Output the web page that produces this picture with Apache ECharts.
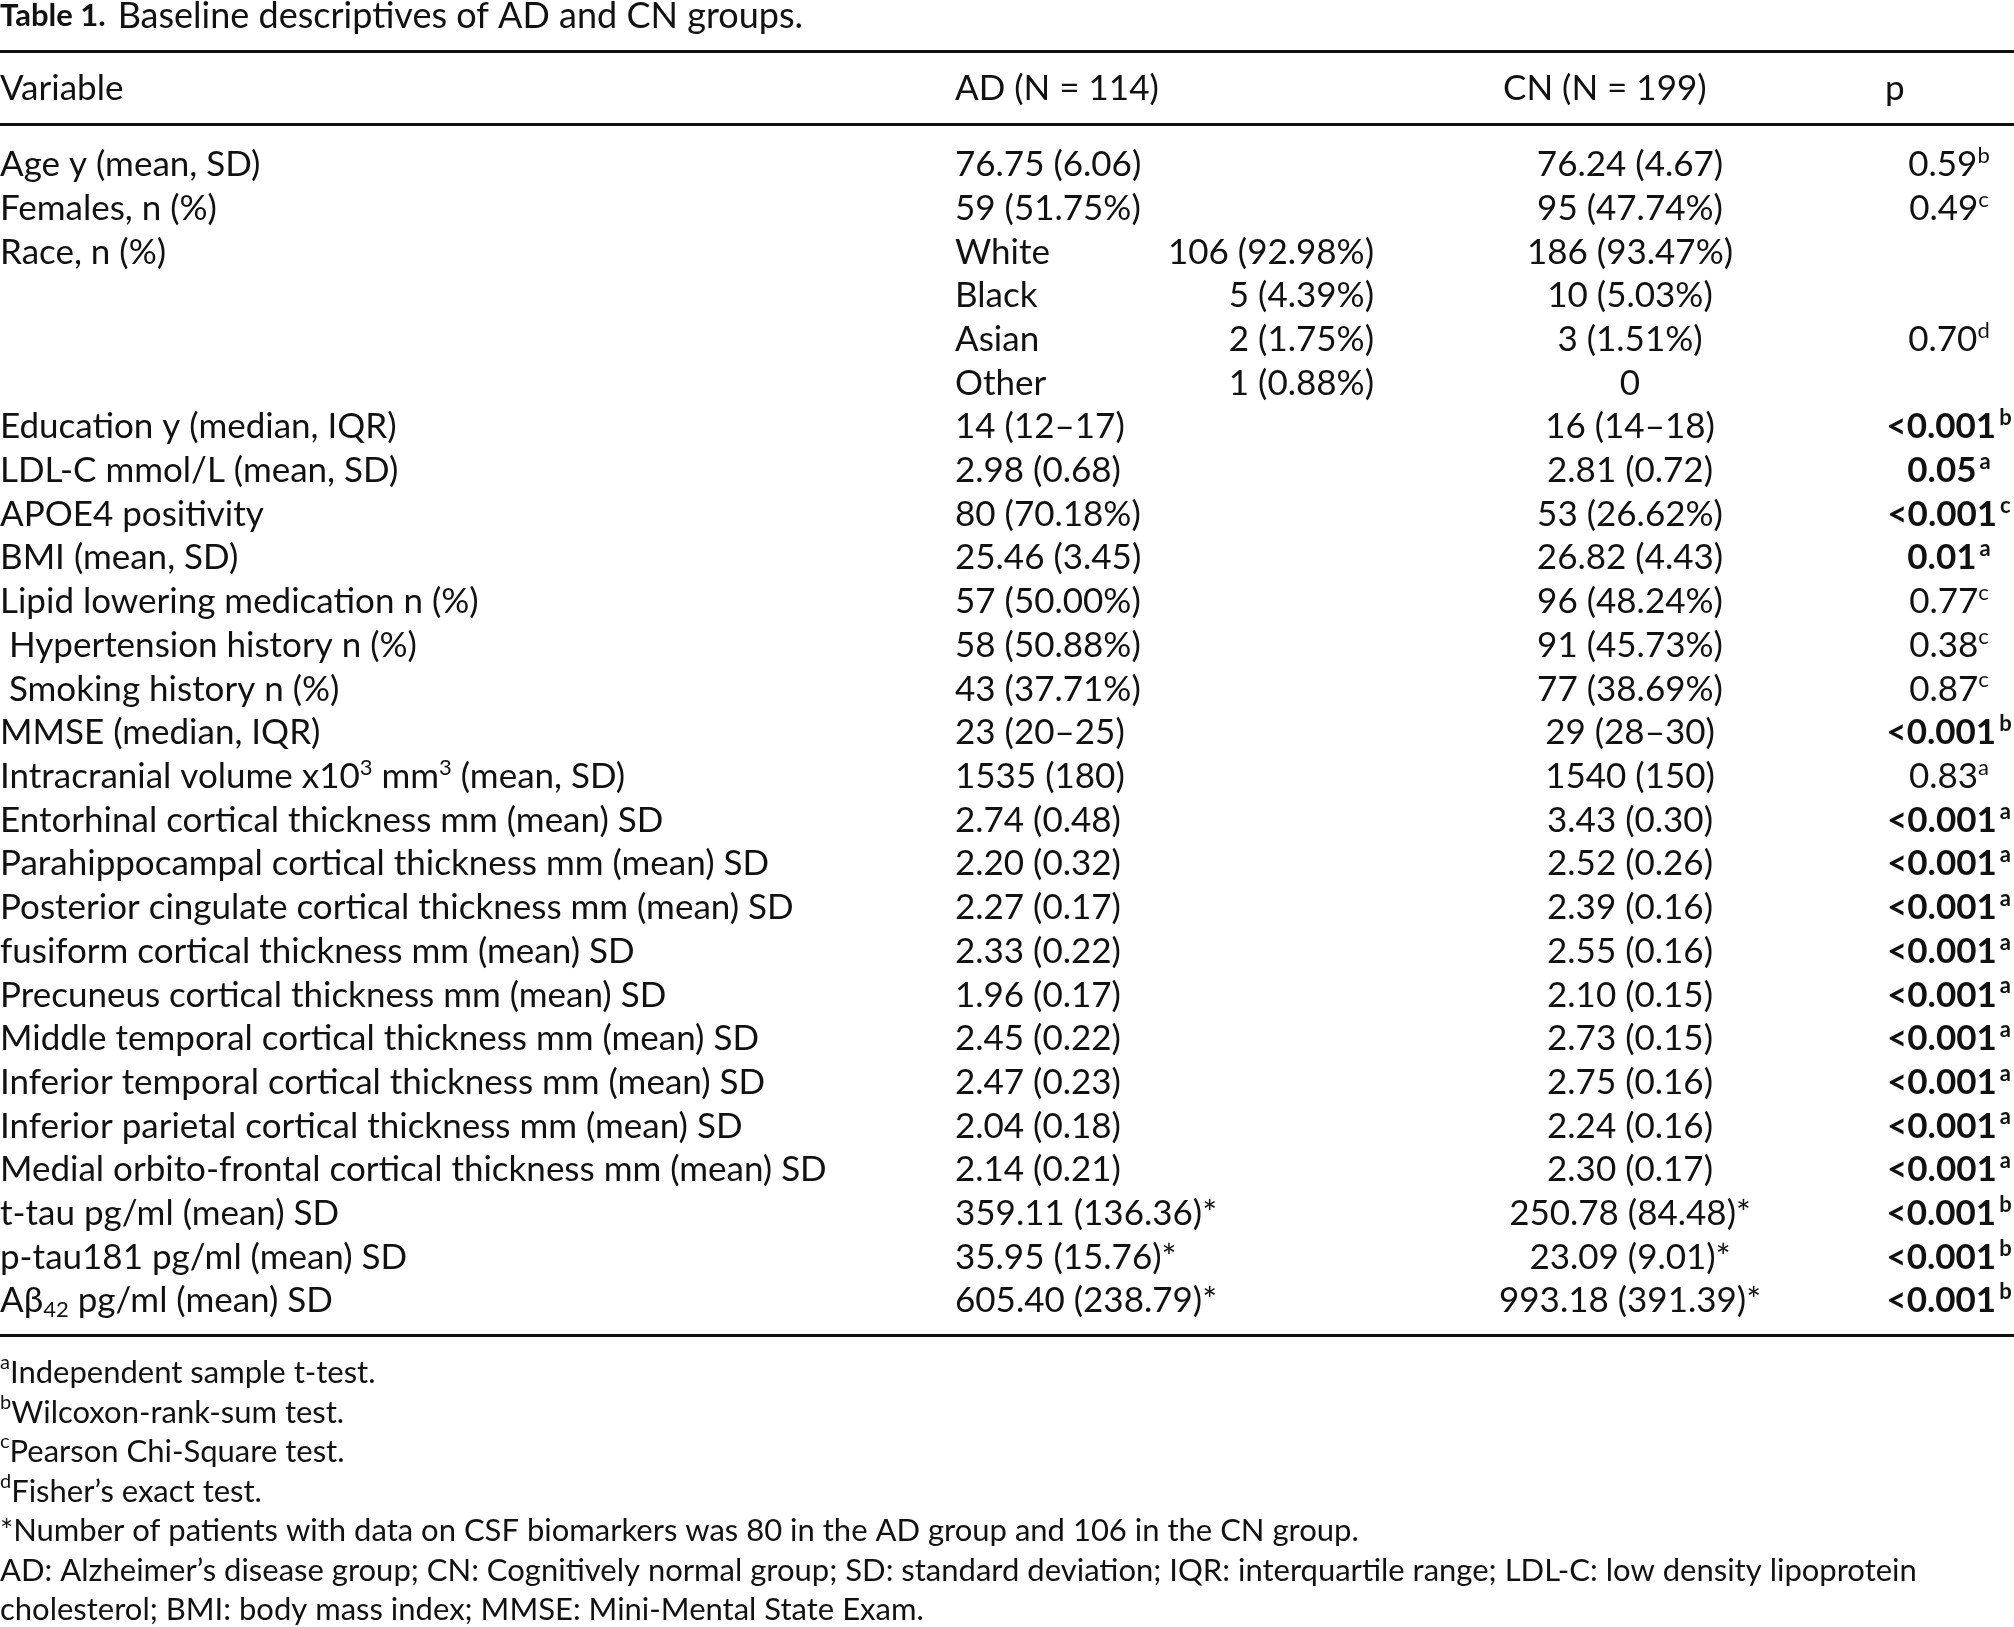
<!DOCTYPE html>
<html>
<head>
<meta charset="utf-8">
<script src="https://cdn.jsdelivr.net/npm/echarts@6/dist/echarts.min.js"></script>
<style>
html, body { margin: 0; padding: 0; background: #fff; }
#table_1 { width: 2014px; height: 1627px; }
</style>
</head>
<body>
<div id="table_1"></div>
<script>
// 表格数据
var variables = [
    'Age y (mean, SD)', 'Females, n (%)', 'Race, n (%)', '', '', '',
    'Education y (median, IQR)', 'LDL-C mmol/L (mean, SD)', 'APOE4 positivity',
    'BMI (mean, SD)', 'Lipid lowering medication n (%)', ' Hypertension history n (%)',
    ' Smoking history n (%)', 'MMSE (median, IQR)',
    'Intracranial volume x10{sup|3} mm{sup|3} (mean, SD)',
    'Entorhinal cortical thickness mm (mean) SD',
    'Parahippocampal cortical thickness mm (mean) SD',
    'Posterior cingulate cortical thickness mm (mean) SD',
    'fusiform cortical thickness mm (mean) SD',
    'Precuneus cortical thickness mm (mean) SD',
    'Middle temporal cortical thickness mm (mean) SD',
    'Inferior temporal cortical thickness mm (mean) SD',
    'Inferior parietal cortical thickness mm (mean) SD',
    'Medial orbito-frontal cortical thickness mm (mean) SD',
    't-tau pg/ml (mean) SD', 'p-tau181 pg/ml (mean) SD',
    'A\u03b2{sub|42} pg/ml (mean) SD'
]
var adValues = [
    '76.75 (6.06)', '59 (51.75%)', '106 (92.98%)', '5 (4.39%)', '2 (1.75%)', '1 (0.88%)',
    '14 (12\u201317)', '2.98 (0.68)', '80 (70.18%)', '25.46 (3.45)', '57 (50.00%)',
    '58 (50.88%)', '43 (37.71%)', '23 (20\u201325)', '1535 (180)', '2.74 (0.48)',
    '2.20 (0.32)', '2.27 (0.17)', '2.33 (0.22)', '1.96 (0.17)', '2.45 (0.22)',
    '2.47 (0.23)', '2.04 (0.18)', '2.14 (0.21)', '359.11 (136.36)*', '35.95 (15.76)*',
    '605.40 (238.79)*'
]
var raceLabels = ['White', 'Black', 'Asian', 'Other']
var raceFirstRow = 2
var cnValues = [
    '76.24 (4.67)', '95 (47.74%)', '186 (93.47%)', '10 (5.03%)', '3 (1.51%)', '0',
    '16 (14\u201318)', '2.81 (0.72)', '53 (26.62%)', '26.82 (4.43)', '96 (48.24%)',
    '91 (45.73%)', '77 (38.69%)', '29 (28\u201330)', '1540 (150)', '3.43 (0.30)',
    '2.52 (0.26)', '2.39 (0.16)', '2.55 (0.16)', '2.10 (0.15)', '2.73 (0.15)',
    '2.75 (0.16)', '2.24 (0.16)', '2.30 (0.17)', '250.78 (84.48)*', '23.09 (9.01)*',
    '993.18 (391.39)*'
]
var pValues = [
    '0.59', '0.49', '', '', '0.70', '', '<0.001', '0.05', '<0.001', '0.01', '0.77',
    '0.38', '0.87', '<0.001', '0.83', '<0.001', '<0.001', '<0.001', '<0.001', '<0.001',
    '<0.001', '<0.001', '<0.001', '<0.001', '<0.001', '<0.001', '<0.001'
]
var pNotes = [
    'b', 'c', '', '', 'd', '', 'b', 'a', 'c', 'a', 'c', 'c', 'c', 'b', 'a', 'a', 'a',
    'a', 'a', 'a', 'a', 'a', 'a', 'a', 'b', 'b', 'b'
]
var pBold = [
    0, 0, 0, 0, 0, 0, 1, 1, 1, 1, 0, 0, 0, 1, 0, 1, 1, 1, 1, 1, 1, 1, 1, 1, 1, 1, 1
]
var headers = ['Variable', 'AD (N = 114)', 'CN (N = 199)', 'p']
var footnotes = [
    '{fsup|a}Independent sample t-test.',
    '{fsup|b}Wilcoxon-rank-sum test.',
    '{fsup|c}Pearson Chi-Square test.',
    '{fsup|d}Fisher\u2019s exact test.',
    '*Number of patients with data on CSF biomarkers was 80 in the AD group and 106 in the CN group.',
    'AD: Alzheimer\u2019s disease group; CN: Cognitively normal group; SD: standard deviation; IQR: interquartile range; LDL-C: low density lipoprotein',
    'cholesterol; BMI: body mass index; MMSE: Mini-Mental State Exam.'
]

// 版式
var FONT = 'Lato, "Noto Sans", sans-serif'
var SIZE = 35
var NOTE_SIZE = 31
var INK = '#111'
var COL = { variable: 0, ad: 955, adRight: 1374, cn: 1630, p: 1949 }
var rich = {
    sup: { fontFamily: FONT, fontSize: 22, lineHeight: 25, verticalAlign: 'top', fill: INK },
    bsup: { fontFamily: FONT, fontSize: 22, fontWeight: 'bold', lineHeight: 25, verticalAlign: 'top', padding: [0, 0, 0, 3], fill: INK },
    sub: { fontFamily: FONT, fontSize: 22, lineHeight: 25, verticalAlign: 'bottom', fill: INK },
    fsup: { fontFamily: FONT, fontSize: 20, lineHeight: 24, verticalAlign: 'top', fill: INK },
    b: { fontFamily: FONT, fontSize: 31, fontWeight: 'bold', lineHeight: 40, fill: INK },
    t: { fontFamily: FONT, fontSize: 36, lineHeight: 40, padding: [0, 0, 0, 12], fill: INK }
}

var cells = []
for (var i = 0; i < variables.length; i++) {
    cells.push({ value: [COL.variable, i], text: variables[i], align: 'left' })
    var r = i - raceFirstRow
    if (r >= 0 && r < raceLabels.length) {
        cells.push({ value: [COL.ad, i], text: raceLabels[r], align: 'left' })
        cells.push({ value: [COL.adRight, i], text: adValues[i], align: 'right' })
    } else {
        cells.push({ value: [COL.ad, i], text: adValues[i], align: 'left' })
    }
    cells.push({ value: [COL.cn, i], text: cnValues[i], align: 'center' })
    if (pValues[i]) {
        var tag = pBold[i] ? 'bsup' : 'sup'
        cells.push({ value: [COL.p, i], text: pValues[i] + '{' + tag + '|' + pNotes[i] + '}', align: 'center', bold: pBold[i] })
    }
}

var rowIds = variables.map(function (v, i) { return i })

function textStyle(text, align, bold, size) {
    return {
        text: text,
        align: align,
        verticalAlign: 'middle',
        fontFamily: FONT,
        fontSize: size || SIZE,
        fontWeight: bold ? 'bold' : 'normal',
        lineHeight: 40,
        fill: INK,
        rich: rich
    }
}

var myChart = echarts.init(document.getElementById('table_1'))
myChart.setOption({
    animation: false,
    grid: { left: 0, right: 0, top: 143, height: 1180 },
    xAxis: { type: 'value', min: 0, max: 2014, show: false },
    yAxis: { type: 'category', data: rowIds, inverse: true, show: false },
    series: [{
        type: 'custom',
        data: cells,
        renderItem: function (params, api) {
            var cell = cells[params.dataIndex]
            var pt = api.coord([api.value(0), api.value(1)])
            return {
                type: 'text',
                x: pt[0],
                y: pt[1],
                style: textStyle(cell.text, cell.align, cell.bold)
            }
        }
    }],
    graphic: (function () {
        var g = []
        g.push({ type: 'text', x: 0, y: 16, style: textStyle('{b|Table 1.}{t|Baseline descriptives of AD and CN groups.}', 'left') })
        g.push({ type: 'rect', shape: { x: 0, y: 50, width: 2014, height: 3 }, style: { fill: INK } })
        g.push({ type: 'text', x: COL.variable, y: 89, style: textStyle(headers[0], 'left') })
        g.push({ type: 'text', x: COL.ad, y: 89, style: textStyle(headers[1], 'left') })
        g.push({ type: 'text', x: 1503, y: 89, style: textStyle(headers[2], 'left') })
        g.push({ type: 'text', x: 1885, y: 89, style: textStyle(headers[3], 'left') })
        g.push({ type: 'rect', shape: { x: 0, y: 123, width: 2014, height: 3 }, style: { fill: INK } })
        g.push({ type: 'rect', shape: { x: 0, y: 1334, width: 2014, height: 3 }, style: { fill: INK } })
        for (var k = 0; k < footnotes.length; k++) {
            g.push({ type: 'text', x: 0, y: 1373 + k * 39.5, style: textStyle(footnotes[k], 'left', false, NOTE_SIZE) })
        }
        return g
    })()
})
</script>
</body>
</html>
